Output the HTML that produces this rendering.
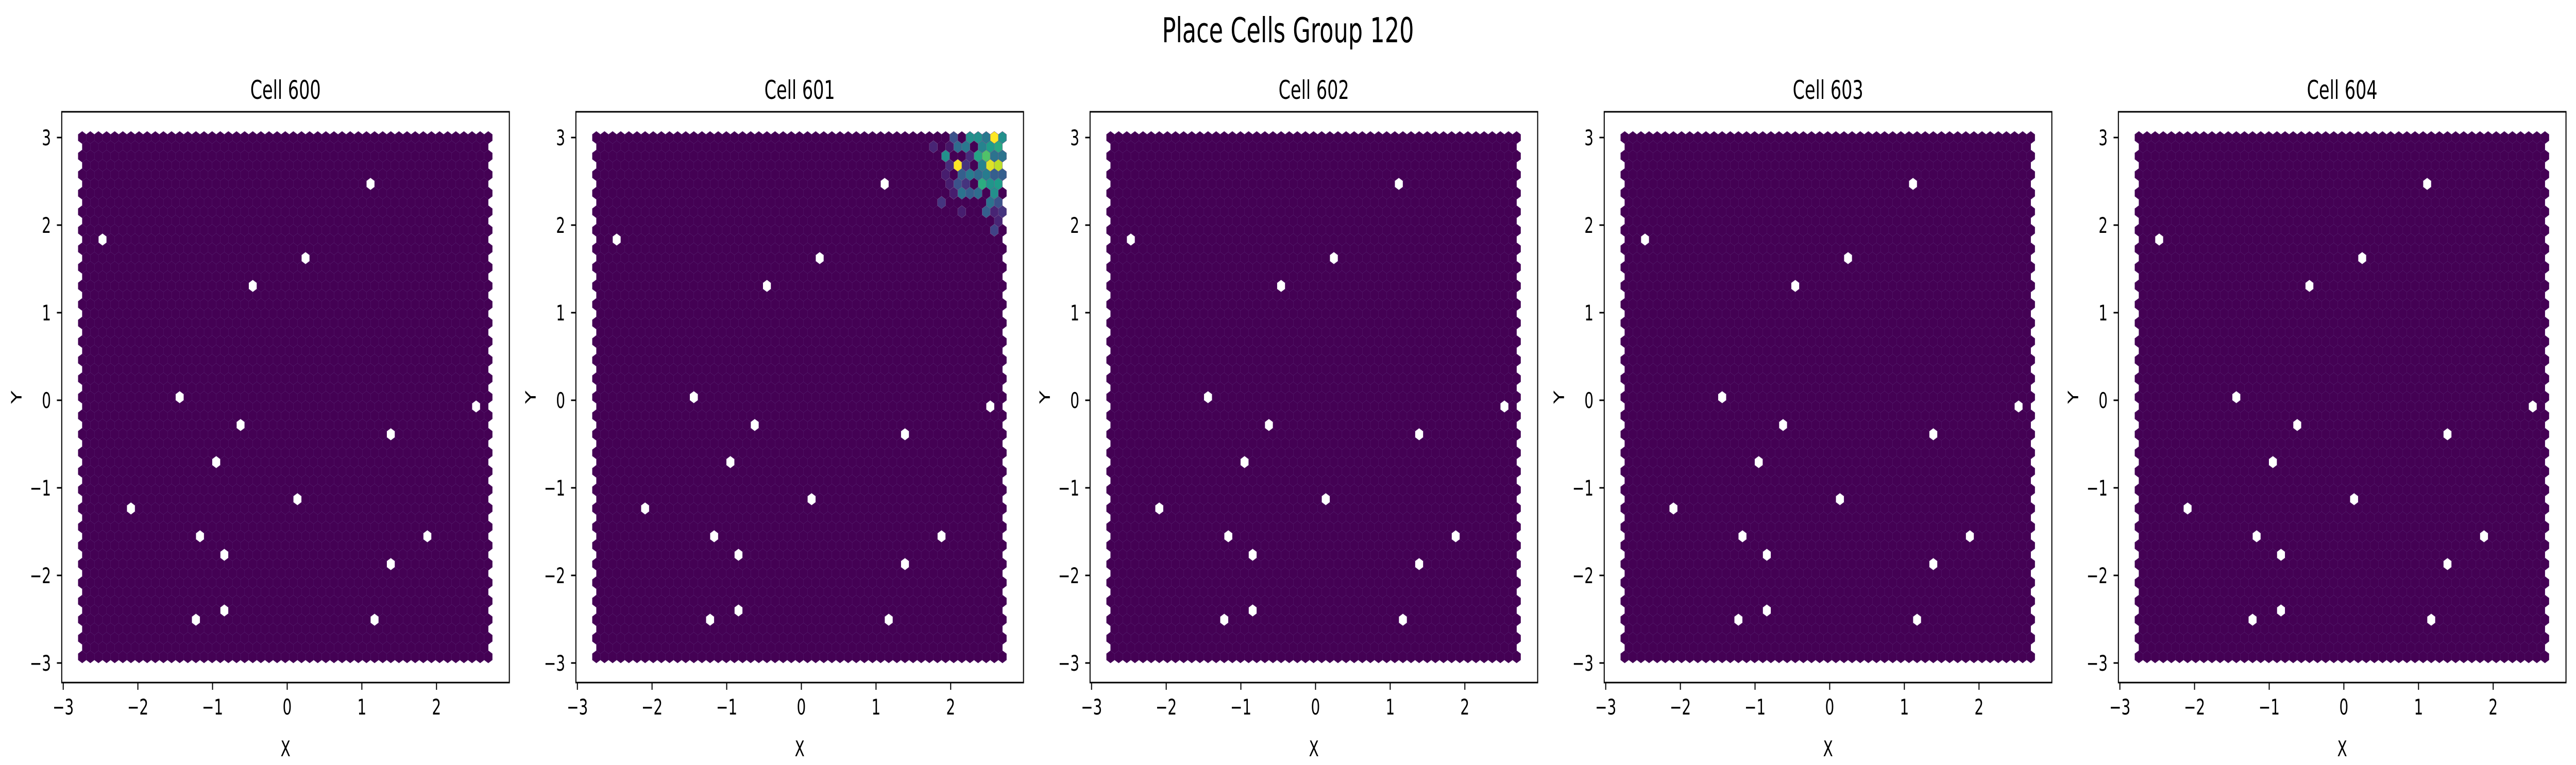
<!DOCTYPE html>
<html><head><meta charset="utf-8"><title>Place Cells Group 120</title>
<style>
html,body{margin:0;padding:0;background:#fff;width:100%;height:100%;overflow:hidden;}
svg{display:block;position:fixed;left:0;top:0;width:100vw;height:100vh;font-family:"DejaVu Sans","Liberation Sans",sans-serif;}
</style></head>
<body>
<svg id="fig" xmlns="http://www.w3.org/2000/svg" viewBox="0 0 7470 1485" preserveAspectRatio="none">
<rect width="7470" height="1485" fill="#fff"/>
<text x="3735" y="82" font-size="66.7" text-anchor="middle" fill="#000">Place Cells Group 120</text>
</svg>
<script>
// ---- data ----
const cellIds = [600, 601, 602, 603, 604];
const xTicks = [-3, -2, -1, 0, 1, 2];
const yTicks = [-3, -2, -1, 0, 1, 2, 3];
// empty (unvisited) bins, shared by every cell
const holeX = [1.12, -2.47, 0.25, -0.46, -1.44, 2.53, -0.62, 1.39, -0.95, 0.14, -2.09, -1.16, 1.89, -0.84, 1.39, -0.84, -1.22, 1.18];
const holeY = [2.47, 1.83, 1.62, 1.30, 0.04, -0.07, -0.28, -0.39, -0.70, -1.13, -1.23, -1.55, -1.55, -1.76, -1.87, -2.40, -2.51, -2.51];
// firing field of cell 601 (row index from top, column index, normalized rate)
const hotCell = 601;
const hotRow = [0,0,0,0,0,0,0, 1,1,1,1,1,1,1,1, 2,2,2,2,2,2, 3,3,3,3,3,3,3, 4,4,4,4,4,4,4, 5,5,5,5,5,5, 6,6,6,6,6, 7,7,7, 8,8,8,8, 9, 10];
const hotCol = [50,49,48,47,46,45,44, 49,48,47,46,45,44,43,41, 50,49,48,47,46,43, 49,48,47,46,45,44,43, 50,49,48,47,46,45,43, 49,48,47,45,44,43, 49,47,46,45,44, 49,48,42, 50,49,48,45, 49, 49];
const hotVal = [0.5,1.0,0.4,0.5,0.5,0.0,0.25, 0.6,0.55,0.45,0.0,0.4,0.35,0.06,0.1, 0.38,0.38,0.72,0.58,0.12,0.5, 0.9,0.95,0.45,0.0,0.15,1.0,0.12, 0.3,0.3,0.42,0.35,0.42,0.3,0.08, 0.55,0.52,0.62,0.15,0.25,0.08, 0.5,0.35,0.3,0.38,0.08, 0.25,0.38,0.15, 0.15,0.1,0.3,0.08, 0.1, 0.2];

// ---- layout ----
const NS = "http://www.w3.org/2000/svg";
const svg = document.getElementById('fig');
const axLeft0 = 179, axStep = 1491, axW = 1298, axTop = 217, axBot = 1325;
const pxPerX = 216.5, pxPerY = 170;
const xMin = -3.02, yMax = 3.294;
const NX = 50, NY = 28;
const hexW = 23.55, rowH = 18; // px
const gridX0 = -2.80 + 0.0544, gridY0 = 3.0;

function el(tag, attrs, parent){ const e = document.createElementNS(NS, tag); for (const k in attrs) e.setAttribute(k, attrs[k]); (parent||svg).appendChild(e); return e; }

const viridis = [[68,1,84],[72,40,120],[62,74,137],[49,104,142],[38,130,142],[31,158,137],[53,183,121],[110,206,88],[181,222,43],[253,231,37]];
function cmap(v){ v=Math.max(0,Math.min(1,v)); const p=v*9, i=Math.min(8,Math.floor(p)), f=p-i; const a=viridis[i], b=viridis[i+1]; return 'rgb('+a.map((c,k)=>Math.round(c+(b[k]-c)*f)).join(',')+')'; }

function hexPath(cx, cy){ const hw=hexW/2, hv=rowH*2/3, hs=rowH/3;
  return 'M'+(cx+hw).toFixed(1)+' '+(cy-hs).toFixed(1)+'L'+(cx+hw).toFixed(1)+' '+(cy+hs).toFixed(1)+'L'+cx.toFixed(1)+' '+(cy+hv).toFixed(1)+'L'+(cx-hw).toFixed(1)+' '+(cy+hs).toFixed(1)+'L'+(cx-hw).toFixed(1)+' '+(cy-hs).toFixed(1)+'L'+cx.toFixed(1)+' '+(cy-hv).toFixed(1)+'Z'; }

cellIds.forEach((cid, p) => {
  const L = axLeft0 + p*axStep;
  const sx = v => L + (v - xMin)*pxPerX;
  const sy = v => axTop + (yMax - v)*pxPerY;
  const g = el('g', {});
  
  

  const cx = (r, c) => sx(gridX0) + c*hexW + (r%2 ? hexW/2 : 0);
  const cy = r => sy(gridY0) + r*rowH;
  const holes = new Set();
  for (let h=0; h<holeX.length; h++){
    const px = sx(holeX[h]), py = sy(holeY[h]);
    let best=null, bd=1e9;
    for (let r=0; r<=2*NY; r++){ const n = r%2 ? NX : NX+1;
      for (let c=0; c<n; c++){ const d=(cx(r,c)-px)**2+(cy(r)-py)**2; if(d<bd){bd=d;best=r+'_'+c;} } }
    holes.add(best);
  }
  const hot = {};
  if (cid === hotCell) for (let i=0;i<hotRow.length;i++) hot[hotRow[i]+'_'+hotCol[i]] = hotVal[i];
  let d = '';
  const hotPaths = [];
  for (let r=0; r<=2*NY; r++){ const n = r%2 ? NX : NX+1;
    for (let c=0; c<n; c++){ const key=r+'_'+c; if (holes.has(key)) continue;
      if (key in hot) { hotPaths.push([hexPath(cx(r,c), cy(r)), hot[key]]); continue; }
      d += hexPath(cx(r,c), cy(r)); } }
  const base = el('path', {d: d, fill: '#440154', stroke: '#55206e', 'stroke-width': 0.7}, g);
  
  
  hotPaths.forEach(hp => {
    const e = el('path', {d: hp[0], fill: cmap(hp[1]), stroke: '#7a5c8e', 'stroke-width': 0.7}, g);
    
    
  });

  const fr = el('rect', {x: L, y: axTop, width: axW, height: axBot-axTop, fill: 'none', stroke: '#000', 'stroke-width': 3}, g);
  
  

  xTicks.forEach(t => {
    const x = sx(t);
    el('line', {x1: x, x2: x, y1: axBot, y2: axBot+14, stroke: '#000', 'stroke-width': 3}, g);
    const tx = el('text', {x: x, y: 1387, 'font-size': 41.7, 'text-anchor': 'middle'}, g);
    tx.textContent = t < 0 ? '\u2212' + Math.abs(t) : String(t);
    
    
  });
  yTicks.forEach(t => {
    const y = sy(t);
    el('line', {x1: L-14, x2: L, y1: y, y2: y, stroke: '#000', 'stroke-width': 3}, g);
    const tx = el('text', {x: L-31, y: y+15, 'font-size': 41.7, 'text-anchor': 'end'}, g);
    tx.textContent = t < 0 ? '\u2212' + Math.abs(t) : String(t);
    
    
  });
  const xl = el('text', {x: L+axW/2, y: 1468, 'font-size': 41.7, 'text-anchor': 'middle'}, g);
  xl.textContent = 'X';
  
  
  const yx = L - 117, yy = (axTop+axBot)/2;
  const yl = el('text', {x: yx, y: yy, 'font-size': 41.7, 'text-anchor': 'middle', transform: 'rotate(-90 '+yx+' '+yy+')'}, g);
  yl.textContent = 'Y';
  
  
  const tt = el('text', {x: L+axW/2, y: 192, 'font-size': 50, 'text-anchor': 'middle'}, g);
  tt.textContent = 'Cell ' + cid;
  
  
});
</script>
</body></html>
